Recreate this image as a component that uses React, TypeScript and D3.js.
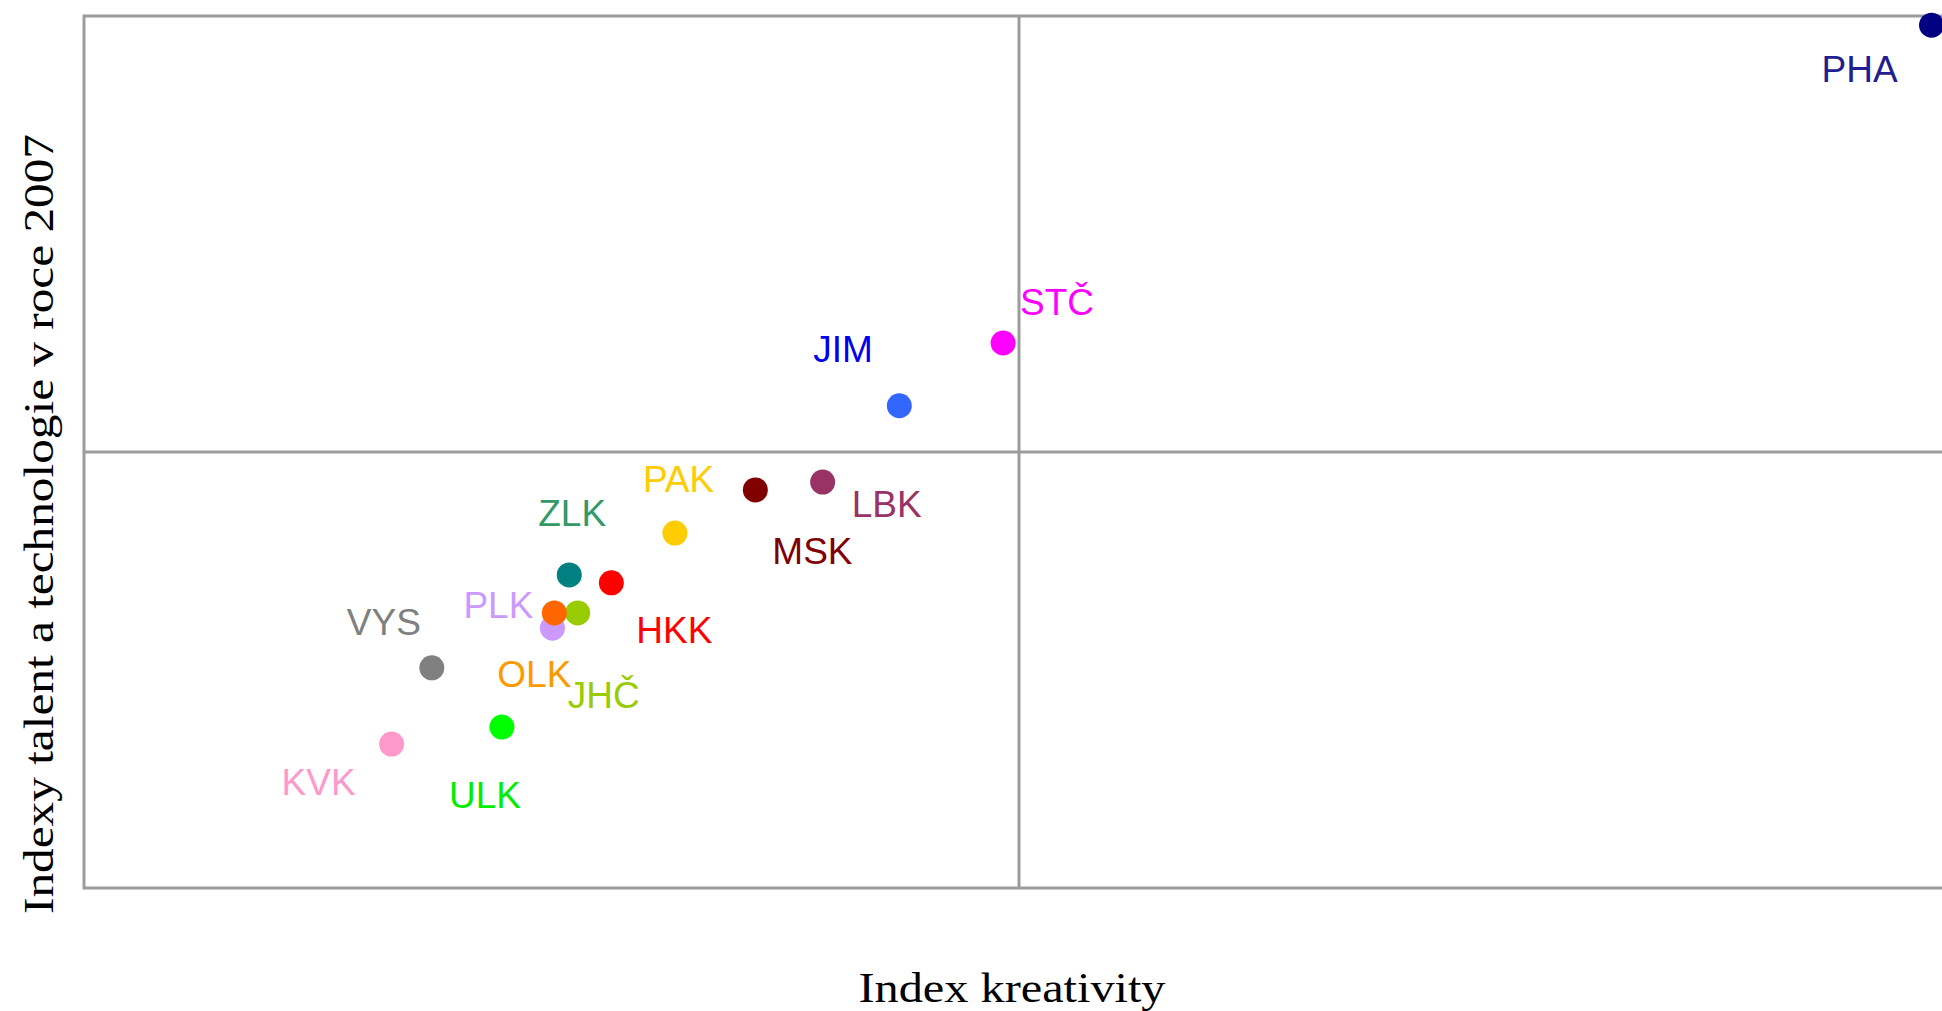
import React, { useRef, useEffect } from 'react';
import * as d3 from 'd3';

// regions (Czech kraje) and their two index values
const regions = ['PHA', 'STČ', 'JIM', 'LBK', 'MSK', 'PAK', 'ZLK', 'HKK', 'JHČ', 'PLK', 'OLK', 'VYS', 'ULK', 'KVK'];
const creativityIndex = [1.976, 0.983, 0.872, 0.79, 0.718, 0.632, 0.519, 0.564, 0.528, 0.501, 0.503, 0.372, 0.447, 0.329];
const talentTechIndex = [1.979, 1.25, 1.106, 0.931, 0.913, 0.814, 0.718, 0.7, 0.631, 0.596, 0.631, 0.505, 0.369, 0.33];
const axisDomain = [0, 2];
const referenceValue = 1;
const xTitle = 'Index kreativity';
const yTitle = 'Indexy talent a technologie v roce 2007';

// styling per region
const dotColor: Record<string, string> = {
  PHA: '#000080', 'STČ': '#ff00ff', JIM: '#3366ff', LBK: '#993366', MSK: '#800000',
  PAK: '#ffcc00', ZLK: '#008080', HKK: '#ff0000', 'JHČ': '#99cc00', PLK: '#cc99ff',
  OLK: '#ff6600', VYS: '#808080', ULK: '#00ff00', KVK: '#ff99cc',
};
const labelColor: Record<string, string> = {
  PHA: '#1f1f8f', 'STČ': '#ff00ff', JIM: '#0000ee', LBK: '#993366', MSK: '#800000',
  PAK: '#ffcc00', ZLK: '#339966', HKK: '#ff0000', 'JHČ': '#99cc00', PLK: '#cc99ff',
  OLK: '#ff9900', VYS: '#808080', ULK: '#00ee00', KVK: '#ff99cc',
};
// label placement relative to the dot (px)
const labelOffset: Record<string, [number, number]> = {
  PHA: [-110, 57], 'STČ': [17, -28], JIM: [-86, -44], LBK: [29, 35], MSK: [17, 74],
  PAK: [-32, -41], ZLK: [-31, -49], HKK: [25, 60], 'JHČ': [-10, 95], PLK: [-89, -10],
  OLK: [-57, 74], VYS: [-85, -33], ULK: [-53, 81], KVK: [-110, 51],
};

const App = () => {
  const ref = useRef<SVGSVGElement>(null);

  useEffect(() => {
    const svg = d3.select(ref.current);
    svg.selectAll('*').remove();

    const x = d3.scaleLinear().domain(axisDomain).range([84, 1954]);
    const y = d3.scaleLinear().domain(axisDomain).range([888, 16]);

    const lineColor = '#9c9c9c';
    svg
      .append('rect')
      .attr('x', x(axisDomain[0]))
      .attr('y', y(axisDomain[1]))
      .attr('width', x(axisDomain[1]) - x(axisDomain[0]))
      .attr('height', y(axisDomain[0]) - y(axisDomain[1]))
      .attr('fill', 'white')
      .attr('stroke', lineColor)
      .attr('stroke-width', 3);

    // quadrant lines at the reference value
    svg
      .append('line')
      .attr('x1', x(referenceValue))
      .attr('x2', x(referenceValue))
      .attr('y1', y(axisDomain[0]))
      .attr('y2', y(axisDomain[1]))
      .attr('stroke', lineColor)
      .attr('stroke-width', 3);
    svg
      .append('line')
      .attr('x1', x(axisDomain[0]))
      .attr('x2', x(axisDomain[1]))
      .attr('y1', y(referenceValue))
      .attr('y2', y(referenceValue))
      .attr('stroke', lineColor)
      .attr('stroke-width', 3);

    const points = regions.map((r, i) => ({ r, cx: creativityIndex[i], ty: talentTechIndex[i] }));

    svg
      .selectAll('.dot')
      .data(points)
      .enter()
      .append('circle')
      .attr('class', 'dot')
      .attr('cx', (d) => x(d.cx))
      .attr('cy', (d) => y(d.ty))
      .attr('r', 12.5)
      .attr('fill', (d) => dotColor[d.r]);

    svg
      .selectAll('.label')
      .data(points)
      .enter()
      .append('text')
      .attr('class', 'label')
      .attr('x', (d) => x(d.cx) + labelOffset[d.r][0])
      .attr('y', (d) => y(d.ty) + labelOffset[d.r][1])
      .attr('fill', (d) => labelColor[d.r])
      .style('font-family', '"Liberation Sans", Arial, sans-serif')
      .style('font-size', '37px')
      .text((d) => d.r);

    svg
      .append('text')
      .attr('x', 1012)
      .attr('y', 1002)
      .attr('text-anchor', 'middle')
      .attr('textLength', 307)
      .attr('lengthAdjust', 'spacingAndGlyphs')
      .style('font-family', '"Liberation Serif", "Times New Roman", serif')
      .style('font-size', '42px')
      .text(xTitle);

    svg
      .append('text')
      .attr('transform', 'translate(53,524) rotate(-90)')
      .attr('text-anchor', 'middle')
      .attr('textLength', 780)
      .attr('lengthAdjust', 'spacingAndGlyphs')
      .style('font-family', '"Liberation Serif", "Times New Roman", serif')
      .style('font-size', '42px')
      .text(yTitle);
  }, []);

  return (
    <svg
      ref={ref}
      width={1942}
      height={1011}
      style={{ position: 'absolute', left: 0, top: 0, display: 'block', background: 'white' }}
    />
  );
};

export default App;
